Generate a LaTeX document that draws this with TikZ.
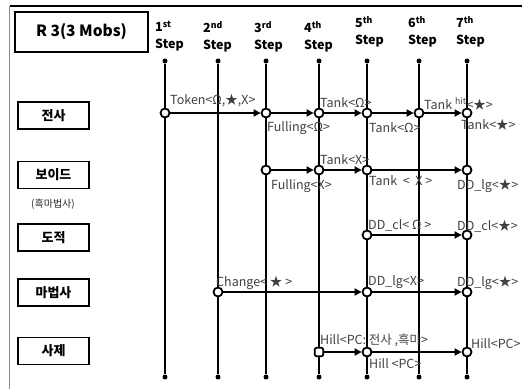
\documentclass[tikz,border=0pt]{standalone}
\usepackage{fontspec}
\setmainfont{Noto Sans CJK KR}
\usetikzlibrary{arrows.meta}
\pgfdeclarelayer{bg}
\pgfsetlayers{bg,main}
\tikzset{
  vline/.style={line width=2.2pt, black},
  harr/.style={line width=2.2pt, black, -{Triangle[length=7pt,width=7pt]}},
  pnt/.style={circle, draw=black, fill=white, line width=1.8pt, minimum size=9pt, inner sep=0pt},
  enddot/.style={circle, fill=black, minimum size=5pt, inner sep=0pt},
  rolebox/.style={draw=black, line width=1.8pt, minimum width=71pt, minimum height=27pt, inner sep=0pt, font=\bfseries\fontsize{13}{14}\selectfont},
  steplbl/.style={anchor=north west, align=left, inner sep=0pt, font=\bfseries\fontsize{12.5}{17}\selectfont},
  lbl/.style={anchor=west, inner sep=0pt, text=black!75, font=\fontsize{12.5}{13}\selectfont},
}
\begin{document}
\begin{tikzpicture}[x=1pt,y=-1pt]
\useasboundingbox (0,0) rectangle (522,389);
% frame
\draw[black!45, line width=1.4pt] (9.5,6) -- (9.5,389);
\draw[black, line width=1.2pt] (9.5,6) -- (522,6);
% title
\node[draw=black, line width=2pt, minimum width=133pt, minimum height=40pt, inner sep=0pt, font=\bfseries\fontsize{15.5}{16}\selectfont] (title) at (81.5,32) {R 3(3 Mobs)};
% step labels
\node[steplbl] (h1) at (155,21) {1\textsuperscript{st}\\Step};
\node[steplbl] (h2) at (203,21) {2\textsuperscript{nd}\\Step};
\node[steplbl] (h3) at (254,21) {3\textsuperscript{rd}\\Step};
\node[steplbl] (h4) at (304,21) {4\textsuperscript{th}\\Step};
\node[steplbl] (h5) at (355,16) {5\textsuperscript{th}\\Step};
\node[steplbl] (h6) at (408,16) {6\textsuperscript{th}\\Step};
\node[steplbl] (h7) at (456,16) {7\textsuperscript{th}\\Step};
% role boxes
\node[rolebox] (r1) at (53.5,115.5) {전사};
\node[rolebox] (r2) at (53.5,175) {보이드};
\node[font=\fontsize{10}{11}\selectfont, inner sep=0pt, text=black!85] (r2s) at (53,204) {(흑마법사)};
\node[rolebox] (r3) at (53.5,237.5) {도적};
\node[rolebox] (r4) at (53.5,292.5) {마법사};
\node[rolebox] (r5) at (53.5,351) {사제};
% step lines end dots
\foreach \i/\x in {1/165,2/218,3/266,4/319,5/367,6/419,7/467}{
  \node[enddot] (t\i) at (\x,61) {};
  \node[enddot] (b\i) at (\x,377) {};
}
\begin{pgfonlayer}{bg}
\foreach \i in {1,...,7}{ \draw[vline] (t\i) -- (b\i); }
\end{pgfonlayer}
% points
\node[pnt] (a1) at (165,113) {};
\node[pnt] (a3) at (266,113) {};
\node[pnt] (a4) at (319,113) {};
\node[pnt] (a5) at (367,113) {};
\node[pnt] (a6) at (419,113) {};
\node[pnt] (a7) at (467,113) {};
\node[pnt] (v3) at (266,170) {};
\node[pnt] (v4) at (319,170) {};
\node[pnt] (v5) at (367,170) {};
\node[pnt] (v7) at (467,170) {};
\node[pnt] (d5) at (367,235) {};
\node[pnt] (d7) at (467,235) {};
\node[pnt] (m2) at (218,292) {};
\node[pnt] (m5) at (367,292) {};
\node[pnt] (m7) at (467,292) {};
\node[pnt, rounded corners=2pt, rectangle, minimum size=8.5pt] (p4) at (319,352) {};
\node[pnt] (p5) at (367,352) {};
\node[pnt] (p7) at (467,352) {};
\begin{pgfonlayer}{bg}
\draw[harr] (a1) -- (a3);
\draw[harr] (a3) -- (a4);
\draw[harr] (a4) -- (a5);
\draw[harr] (a5) -- (a6);
\draw[harr] (a6) -- (a7);
\draw[harr] (v3) -- (v4);
\draw[harr] (v4) -- (v5);
\draw[harr] (v5) -- (v7);
\draw[harr] (d5) -- (d7);
\draw[harr] (m2) -- (m5);
\draw[harr] (m5) -- (m7);
\draw[harr] (p4) -- (p5);
\draw[harr] (p5) -- (p7);
\end{pgfonlayer}
% labels
\node[lbl] (l1) at (170,101) {Token<Ω,★,X>};
\node[lbl] (l2) at (267,128) {Fulling<Ω>};
\node[lbl] (l3) at (320,103) {Tank<Ω>};
\node[lbl] (l4) at (369,128) {Tank<Ω>};
\node[lbl] (l5) at (424,104) {Tank \textsuperscript{hit}<★>};
\node[lbl] (l6) at (461,125) {Tank<★>};
\node[lbl] (l7) at (320,160) {Tank<X>};
\node[lbl] (l8) at (271,186) {Fulling<X>};
\node[lbl] (l9) at (369,181) {Tank \ < \ X >};
\node[lbl] (l10) at (457,186) {DD\_lg<★>};
\node[lbl] (l11) at (368,225) {DD\_cl< Ω >};
\node[lbl] (l12) at (457,226) {DD\_cl<★>};
\node[lbl] (l13) at (216,283) {Change< ★ >};
\node[lbl] (l14) at (368,282) {DD\_lg<X>};
\node[lbl] (l15) at (457,283) {DD\_lg<★>};
\node[lbl] (l16) at (320,340) {Hill<PC: 전사 ,흑마>};
\node[lbl] (l17) at (369,364) {Hill <PC>};
\node[lbl] (l18) at (471,344) {Hill<PC>};
\end{tikzpicture}
\end{document}
